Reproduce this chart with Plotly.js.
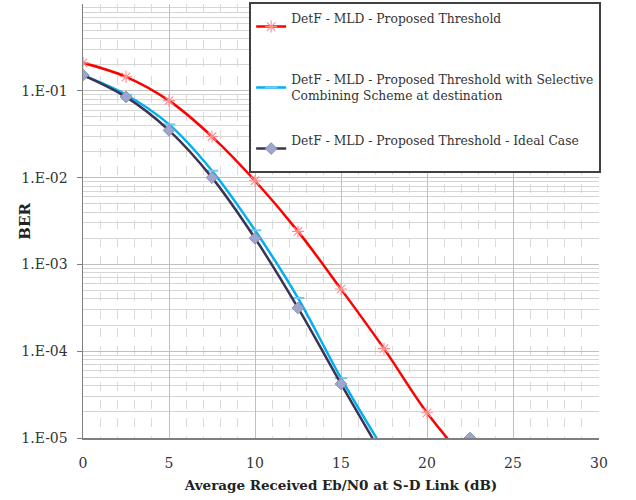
<!DOCTYPE html>
<html>
<head>
<meta charset="utf-8">
<script src="https://cdn.plot.ly/plotly-3.0.1.min.js"></script>
<style>html,body{margin:0;padding:0;background:#fff;}#chart{width:636px;height:500px;}</style>
</head>
<body>
<div id="chart"></div>
<script>
// Average Received Eb/N0 at S-D link (dB)
const snr = [0, 2.5, 5, 7.5, 10, 12.5, 15, 17.5, 20, 22.5];
// BER values
const berProposed = [0.21, 0.145, 0.077, 0.0297, 0.0092, 0.0024, 0.00052, 0.000107, 0.0000195, 0.0000049];
const berSelective = [0.15, 0.09, 0.041, 0.012, 0.00247, 0.00041, 0.000049, 0.0000072, null, null];
const berIdeal = [0.152, 0.085, 0.035, 0.0100, 0.0020, 0.000315, 0.000042, 0.0000059, null, 0.00001];

const seriesNames = [
  "DetF - MLD - Proposed Threshold<br>&nbsp;",
  "DetF - MLD - Proposed Threshold with Selective<br>Combining Scheme at destination",
  "DetF - MLD - Proposed Threshold - Ideal Case<br>&nbsp;"
];
const yTickVals = [1e-5, 1e-4, 1e-3, 1e-2, 1e-1];
const yTickText = ["1.E-05", "1.E-04", "1.E-03", "1.E-02", "1.E-01"];
const xTickVals = [0, 5, 10, 15, 20, 25, 30];

const FONT = "DejaVu Serif";

const traces = [
  {
    x: snr, y: berProposed, name: seriesNames[0], mode: "lines+markers",
    line: {color: "#FF0000", width: 2.5, shape: "spline", smoothing: 1},
    marker: {symbol: "asterisk-open", size: 10, color: "#FF8C8C", line: {color: "#FF8C8C", width: 1.1}},
    legendgroup: "a"
  },
  {
    x: snr, y: berSelective, name: seriesNames[1], mode: "lines+markers",
    line: {color: "#00B0F0", width: 2.5, shape: "spline", smoothing: 1},
    marker: {symbol: "line-ew-open", size: 9, color: "#6FCBEF", line: {color: "#6FCBEF", width: 2}},
    legendgroup: "b", connectgaps: false
  },
  {
    x: snr, y: berIdeal, name: seriesNames[2], mode: "lines+markers",
    line: {color: "#3C3352", width: 2.5, shape: "spline", smoothing: 1},
    marker: {symbol: "diamond", size: 9, color: "#9EA6CC", line: {color: "#8890B8", width: 1}},
    legendgroup: "c", connectgaps: false
  }
];

const layout = {
  width: 636, height: 500,
  margin: {l: 83, r: 37, t: 3, b: 62},
  paper_bgcolor: "#ffffff", plot_bgcolor: "#ffffff",
  font: {family: FONT, size: 14, color: "#222222"},
  showlegend: true,
  legend: {
    x: 0.322, xanchor: "left", y: 1.002, yanchor: "top",
    bgcolor: "#ffffff", bordercolor: "#404040", borderwidth: 2,
    font: {family: FONT, size: 12.3, color: "#333333"},
    tracegroupgap: 26, itemwidth: 30,
    traceorder: "grouped"
  },
  xaxis: {
    range: [0, 30], tickvals: xTickVals, ticks: "", ticklabelstandoff: 12,
    showline: true, linecolor: "#7F7F7F", linewidth: 1.5,
    showgrid: true, gridcolor: "#BFBFBF", gridwidth: 1, zeroline: false,
    minor: {dtick: 1, showgrid: true, gridcolor: "#DADADA", griddash: "dash", gridwidth: 1},
    tickfont: {family: FONT, size: 14, color: "#333333"},
    title: {text: "<b>Average Received Eb/N0 at S-D Link (dB)</b>", font: {family: FONT, size: 13.5, color: "#222222"}, standoff: 10}
  },
  yaxis: {
    type: "log", range: [-5, 0], tickvals: yTickVals, ticktext: yTickText,
    ticks: "outside", ticklen: 5, tickcolor: "#7F7F7F", ticklabelstandoff: 6,
    showline: true, linecolor: "#7F7F7F", linewidth: 1.5,
    showgrid: true, gridcolor: "#BFBFBF", gridwidth: 1, zeroline: false,
    minor: {dtick: "D1", showgrid: true, gridcolor: "#D6D6D6", gridwidth: 1},
    tickfont: {family: FONT, size: 14, color: "#333333"}
  },
  annotations: [{
    text: "<b>BER</b>", xref: "paper", yref: "paper", x: -0.113, y: 0.5,
    xanchor: "center", yanchor: "middle", textangle: -90, showarrow: false,
    font: {family: FONT, size: 15, color: "#222222"}
  }]
};

Plotly.newPlot("chart", traces, layout, {displayModeBar: false, staticPlot: true});
</script>
</body>
</html>
